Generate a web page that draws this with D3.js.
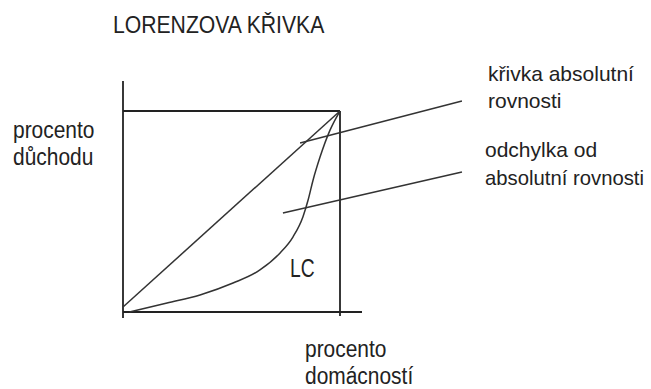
<!DOCTYPE html>
<html lang="cs">
<head>
  <meta charset="UTF-8">
  <title>Lorenzova křivka</title>
  <style>
  body { margin: 0; background: #fff; }
  svg { display: block; }
  text { font-family: "Liberation Sans", Arial, sans-serif; fill: #222; }
  </style>
</head>
<body>
  <svg></svg>
  <script src="https://d3js.org/d3.v7.min.js"></script>
  <script>
  // data (percent of households -> percent of income)
  var equality = [[0, 2.5], [100, 100]];
  var lorenz = [[3, 0], [20.3, 4.5], [35.5, 8.5], [50.7, 14.4], [63.1, 20.9], [72.4, 29.4],
                [78.3, 37.3], [82.9, 47.3], [85.3, 55.7], [87.6, 65.7], [90.8, 77.1],
                [95.4, 90.5], [100, 100]];
  // pointer lines for the two notes on the right
  var pointers = [[[81.6, 84.1], [156.2, 105]], [[73.7, 49.3], [156.2, 69.7]]];
  var title = "LORENZOVA KŘIVKA";
  var yLabel = ["procento", "důchodu"];
  var xLabel = ["procento", "domácností"];
  var notes = [["křivka absolutní", "rovnosti"], ["odchylka od", "absolutní rovnosti"]];
  var curveLabel = "LC";

  var width = 651;
  var height = 389;
  var x = d3.scaleLinear().domain([0, 100]).range([123, 340]);
  var y = d3.scaleLinear().domain([0, 100]).range([312, 111]);

  var svg = d3.select("svg")
      .attr("width", width)
      .attr("height", height);

  // frame: axes plus the square closing the 100 % corner
  var frame = svg.append("g")
      .attr("stroke", "#222")
      .attr("stroke-width", 1.8)
      .attr("fill", "none");
  frame.append("line") // y axis
      .attr("x1", x(0)).attr("x2", x(0))
      .attr("y1", y(100) - 30).attr("y2", y(0) + 6);
  frame.append("line") // x axis
      .attr("x1", x(0)).attr("x2", x(100) + 22)
      .attr("y1", y(0)).attr("y2", y(0));
  frame.append("line") // top of the square
      .attr("x1", x(0)).attr("x2", x(100))
      .attr("y1", y(100)).attr("y2", y(100));
  frame.append("line") // right side of the square
      .attr("x1", x(100)).attr("x2", x(100))
      .attr("y1", y(100)).attr("y2", y(0) + 4);

  var line = d3.line().x(d => x(d[0])).y(d => y(d[1]));

  svg.append("path")
      .datum(equality)
      .attr("d", line)
      .attr("fill", "none")
      .attr("stroke", "#333")
      .attr("stroke-width", 1.5);

  svg.append("path")
      .datum(lorenz)
      .attr("d", line.curve(d3.curveMonotoneX))
      .attr("fill", "none")
      .attr("stroke", "#333")
      .attr("stroke-width", 1.5);

  svg.selectAll(".pointer")
      .data(pointers)
      .enter()
      .append("line")
        .attr("class", "pointer")
        .attr("x1", d => x(d[0][0])).attr("y1", d => y(d[0][1]))
        .attr("x2", d => x(d[1][0])).attr("y2", d => y(d[1][1]))
        .attr("stroke", "#333")
        .attr("stroke-width", 1.5);

  // the original lettering is tall and narrow: bigger size, squeezed sideways,
  // and never running past the right margin
  var rightEdge = 644;
  function squeeze(sel, k) {
    sel.each(function() {
      var w = this.getComputedTextLength() * k;
      var room = rightEdge - (+this.getAttribute("x"));
      d3.select(this)
        .attr("textLength", Math.min(w, room))
        .attr("lengthAdjust", "spacingAndGlyphs");
    });
  }

  svg.append("text")
      .attr("x", 113).attr("y", 33)
      .attr("font-size", 23)
      .text(title)
      .call(squeeze, 0.92);

  function block(lines, x0, y0, gap, size, k) {
    svg.append("g").selectAll("text")
      .data(lines)
      .enter()
      .append("text")
        .attr("x", x0)
        .attr("y", (d, i) => y0 + i * gap)
        .attr("font-size", size)
        .text(d => d)
        .call(squeeze, k);
  }
  block(yLabel, 13, 138, 27, 23, 0.91);
  block(xLabel, 305, 357, 27, 23, 0.91);
  // the notes sit near the right edge, so they keep a plain size
  block(notes[0], 488, 81, 27, 21, 1);
  block(notes[1], 485, 157, 28, 21, 1);

  svg.append("text")
      .attr("x", 290).attr("y", 277)
      .attr("font-size", 26)
      .text(curveLabel)
      .call(squeeze, 0.74);
  </script>
</body>
</html>
